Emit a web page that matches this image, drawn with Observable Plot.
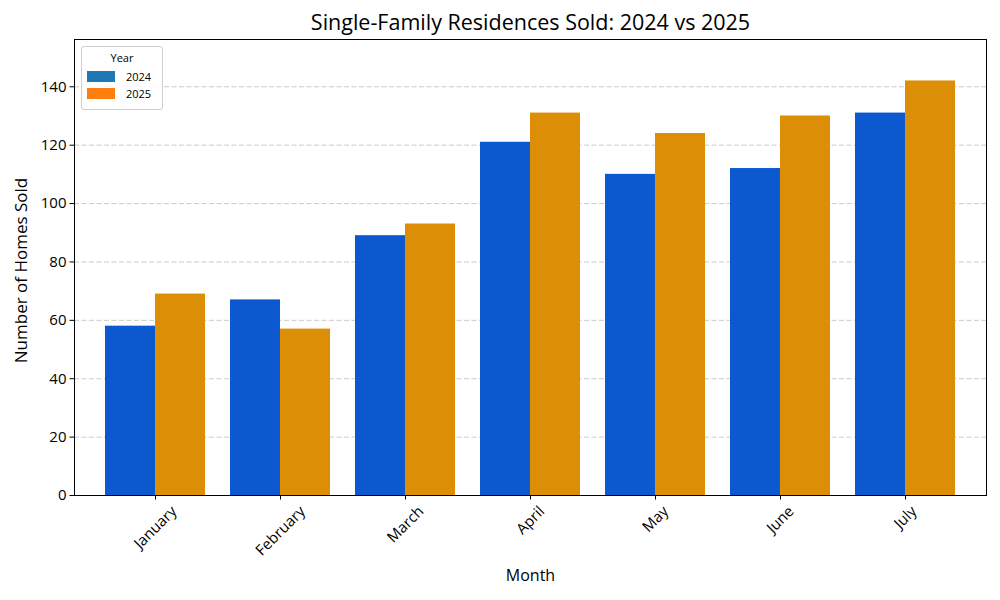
<!DOCTYPE html>
<html>
<head>
<meta charset="utf-8">
<script src="https://cdn.jsdelivr.net/npm/d3@7"></script>
<script src="https://cdn.jsdelivr.net/npm/@observablehq/plot@0.6"></script>
<style>
  html, body { margin: 0; padding: 0; background: #fff; }
  #wrap { position: relative; width: 1000px; height: 600px; font-family: "Open Sans", Roboto, sans-serif; }
  #legend { position: absolute; left: 81px; top: 46px; width: 80px; height: 62px; border: 1px solid #d0d0d0; border-radius: 3px; background: rgba(255,255,255,0.85); font-size: 11px; color: #000; }
  #legend .title { text-align: center; margin-top: 4px; height: 14px; line-height: 14px; }
  #legend .row { display: flex; align-items: center; margin-top: 5px; margin-left: 5px; height: 12px; }
  #legend .sw { width: 28px; height: 11px; margin-right: 11px; }
</style>
</head>
<body>
<div id="wrap"></div>
<script>
const months = ["January", "February", "March", "April", "May", "June", "July"];
const years = ["2024", "2025"];
const sales2024 = [58, 67, 89, 121, 110, 112, 131];
const sales2025 = [69, 57, 93, 131, 124, 130, 142];
const yTicks = [0, 20, 40, 60, 80, 100, 120, 140];
const barColors = ["#0c59cf", "#dd8e07"];
const legendColors = ["#1f77b4", "#ff7f0e"];
const titleText = "Single-Family Residences Sold: 2024 vs 2025";
const xLabel = "Month";
const yLabel = "Number of Homes Sold";

const rows = months.flatMap((m, i) => [
  {month: m, year: years[0], value: sales2024[i]},
  {month: m, year: years[1], value: sales2025[i]}
]);

const W = 1000, H = 600, ML = 74, MR = 14, MT = 39, MB = 105;
const padIn = 0.2, padOut = 0.247;
const step = (W - ML - MR) / (months.length - padIn + 2 * padOut);
const half = step * (1 - padIn) / 2;

const FONT = "'Open Sans', Roboto, sans-serif";
const tickFont = 15;
const ctx = document.createElement("canvas").getContext("2d");
ctx.font = `${tickFont}px 'Open Sans'`;
const c45 = Math.SQRT1_2;
function labelDy(m) {
  const L = ctx.measureText(m).width;
  const h = tickFont * 1.1;
  return 7.5 + (L + h) * c45 / 2;
}

const monthLabelMarks = months.map(m =>
  Plot.text([m], {
    x: d => d, text: d => d, frameAnchor: "bottom", dy: labelDy(m),
    rotate: -45, textAnchor: "middle", lineAnchor: "middle",
    fontSize: tickFont, fill: "#000"
  })
);

const chart = Plot.plot({
  width: W,
  height: H,
  marginLeft: ML,
  marginRight: MR,
  marginTop: MT,
  marginBottom: MB,
  style: {fontFamily: FONT, fontSize: tickFont + "px", color: "#000", background: "#fff"},
  x: {domain: months, paddingInner: padIn, paddingOuter: padOut, label: null, tickSize: 4.5, tickFormat: () => ""},
  y: {domain: [0, 156.2], ticks: yTicks, tickSize: 4.5, tickPadding: 3.5, label: null},
  color: {domain: years, range: barColors},
  marks: [
    Plot.ruleY(yTicks.slice(1), {stroke: "#b0b0b0", strokeOpacity: 0.75, strokeDasharray: "5,2.5", strokeWidth: 0.9}),
    Plot.barY(rows.filter(d => d.year === years[0]), {x: "month", y: "value", fill: "year", insetRight: half}),
    Plot.barY(rows.filter(d => d.year === years[1]), {x: "month", y: "value", fill: "year", insetLeft: half}),
    ...monthLabelMarks,
    Plot.frame({stroke: "#000", strokeWidth: 1}),
    Plot.text([titleText], {frameAnchor: "top", lineAnchor: "middle", dy: -16, fontSize: 21.5, fill: "#000", text: d => d}),
    Plot.text([xLabel], {frameAnchor: "bottom", lineAnchor: "middle", dy: 80, fontSize: 16, fill: "#000", text: d => d}),
    Plot.text([yLabel], {frameAnchor: "left", textAnchor: "middle", lineAnchor: "middle", dx: -53, dy: 3, rotate: -90, fontSize: 17, fill: "#000", text: d => d})
  ]
});

const wrap = document.getElementById("wrap");
wrap.appendChild(chart);

const legend = document.createElement("div");
legend.id = "legend";
const lt = document.createElement("div");
lt.className = "title";
lt.textContent = "Year";
legend.appendChild(lt);
years.forEach((y, i) => {
  const row = document.createElement("div");
  row.className = "row";
  const sw = document.createElement("span");
  sw.className = "sw";
  sw.style.background = legendColors[i];
  const tx = document.createElement("span");
  tx.textContent = y;
  row.appendChild(sw);
  row.appendChild(tx);
  legend.appendChild(row);
});
wrap.appendChild(legend);
</script>
</body>
</html>
